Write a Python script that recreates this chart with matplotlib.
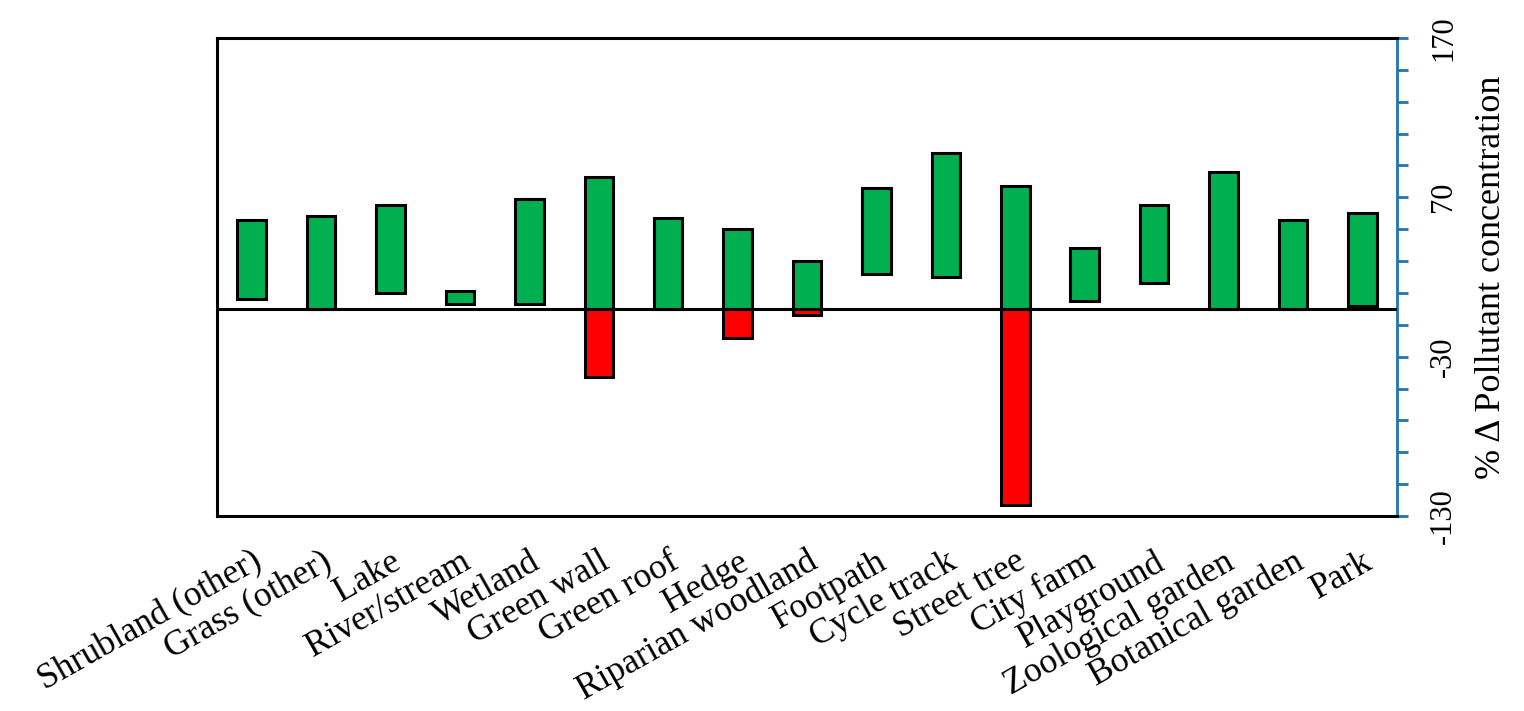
import matplotlib.pyplot as plt
import numpy as np

# ── Data ──────────────────────────────────────────────────────
categories = [
    "Shrubland (other)", "Grass (other)", "Lake", "River/stream", "Wetland",
    "Green wall", "Green roof", "Hedge", "Riparian woodland", "Footpath",
    "Cycle track", "Street tree", "City farm", "Playground",
    "Zoological garden", "Botanical garden", "Park",
]
green_low  = [6, 0, 10, 3, 3, 0, 0, 0, 0, 22, 20, 0, 5, 16, 0, 0, 2]
green_high = [56, 58, 65, 11, 69, 83, 57, 50, 30, 76, 98, 77, 38, 65, 86, 56, 60]
red_low    = [0, 0, 0, 0, 0, -43, 0, -18, -4, 0, 0, -123, 0, 0, 0, 0, 0]

y_ticks       = np.arange(-130, 171, 20)
y_tick_labels = ["-130", "-30", "70", "170"]

# ── Style ─────────────────────────────────────────────────────
plt.rcParams.update({
    "font.family": ["Liberation Serif", "DejaVu Serif"],
    "font.size":   22,
})
GREEN = "#00B050"
RED   = "#FF0000"
BLUE  = "#2075B0"

fig = plt.figure(figsize=(15.24, 7.11), dpi=100)
ax = fig.add_axes([0.1424, 0.2743, 0.9167 - 0.1424, 0.9466 - 0.2743])

x = np.arange(len(categories))
lo = np.array(green_low)
hi = np.array(green_high)
ax.bar(x, hi - lo, bottom=lo, width=0.41, color=GREEN,
       edgecolor="black", linewidth=2.2, zorder=3)

red = np.array(red_low)
mask = red < 0
ax.bar(x[mask], red[mask], width=0.41, color=RED,
       edgecolor="black", linewidth=2.2, zorder=3)

ax.axhline(0, color="black", linewidth=2.2, zorder=4)

ax.set_xlim(-0.5, len(categories) - 0.5)
ax.set_ylim(-130, 170)

# x axis labels
ax.set_xticks(x)
ax.set_xticklabels(categories, rotation=29.5, ha="right",
                   rotation_mode="anchor", fontsize=25.5)
ax.tick_params(axis="x", length=0, pad=21)

# right-hand y axis
ax.yaxis.tick_right()
ax.yaxis.set_label_position("right")
ax.set_yticks(y_ticks)
ax.set_yticklabels([str(t) if str(t) in y_tick_labels else "" for t in y_ticks],
                   rotation=90, va="center")
ax.tick_params(axis="y", direction="out", length=8, width=2,
               color=BLUE, pad=15, labelsize=22)
ax.set_ylabel("% \u0394 Pollutant concentration", fontsize=26,
              rotation=90, labelpad=12)

for side in ("left", "top", "bottom"):
    ax.spines[side].set_linewidth(2.2)
    ax.spines[side].set_color("black")
ax.spines["right"].set_color(BLUE)
ax.spines["right"].set_linewidth(2)

fig.savefig("out.png", dpi=100)
